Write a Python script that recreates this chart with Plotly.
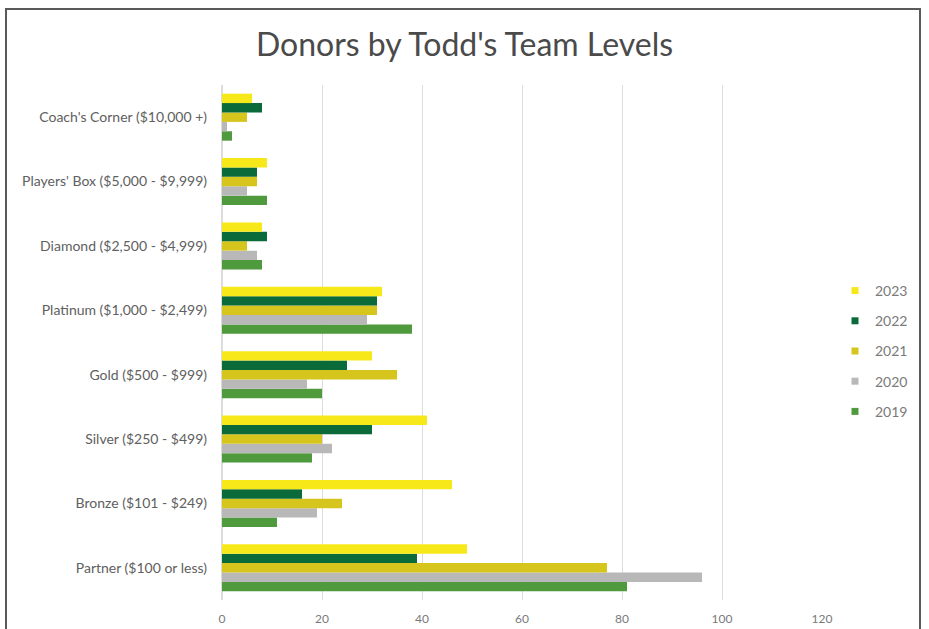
import plotly.graph_objects as go

categories = [
    "Partner ($100 or less)",
    "Bronze ($101 - $249)",
    "Silver ($250 - $499)",
    "Gold ($500 - $999)",
    "Platinum ($1,000 - $2,499)",
    "Diamond ($2,500 - $4,999)",
    "Players' Box ($5,000 - $9,999)",
    "Coach's Corner ($10,000 +)",
]
years = ["2019", "2020", "2021", "2022", "2023"]
v2019 = [81, 11, 18, 20, 38, 8, 9, 2]
v2020 = [96, 19, 22, 17, 29, 7, 5, 1]
v2021 = [77, 24, 20, 35, 31, 5, 7, 5]
v2022 = [39, 16, 30, 25, 31, 9, 7, 8]
v2023 = [49, 46, 41, 30, 32, 8, 9, 6]
values = [v2019, v2020, v2021, v2022, v2023]
colors = ["#4E9A3C", "#B8B8B8", "#D6C51C", "#0B6A3A", "#F7E81A"]
x_ticks = [0, 20, 40, 60, 80, 100, 120]

fig = go.Figure()
for i, (yr, vals, col) in enumerate(zip(years, values, colors)):
    fig.add_trace(go.Bar(
        y=categories, x=vals, name=yr, orientation="h",
        marker=dict(color=col, line=dict(width=0)),
        showlegend=False,
    ))
# legend-only entries with small square markers
for i, (yr, col) in enumerate(zip(years, colors)):
    fig.add_trace(go.Scatter(
        x=[None], y=[None], mode="markers", name=yr,
        marker=dict(symbol="square", size=7, color=col),
        legendgroup=yr, legendrank=100 - i, showlegend=True,
        hoverinfo="skip",
    ))

L, R, T, B = 222, 107, 85, 29
W, H = 929, 629
pw, ph = W - L - R, H - T - B

def px_x(p):
    return (p - L) / pw

def px_y(p):
    return (H - B - p) / ph

fig.update_layout(
    width=W, height=H, autosize=False,
    margin=dict(l=L, r=R, t=T, b=B, pad=0, autoexpand=False),
    paper_bgcolor="white", plot_bgcolor="white",
    barmode="group", bargap=0.27, bargroupgap=0,
    title=dict(text="Donors by Todd's Team Levels", x=0.5, xref="container",
               xanchor="center", y=1 - 45 / H, yanchor="middle",
               font=dict(family="Lato", size=32, color="#4a4a4a")),
    font=dict(family="Lato", color="#6a6a6a"),
    showlegend=True,
    legend=dict(x=px_x(835), xanchor="left", y=px_y(351), yanchor="middle",
                traceorder="grouped", tracegroupgap=9,
                font=dict(size=14, color="#7a7a7a"),
                itemwidth=30, bgcolor="rgba(0,0,0,0)"),
    xaxis=dict(range=[0, 120], tickvals=x_ticks, showgrid=True,
               gridcolor="#dcdcdc", gridwidth=1, zeroline=True,
               zerolinecolor="#dcdcdc", showline=False, automargin=False,
               tickfont=dict(size=12, color="#7a7a7a"),
               ticks="", ticklabelstandoff=10, fixedrange=True),
    yaxis=dict(categoryorder="array", categoryarray=categories,
               showgrid=False, showline=False, ticks="", automargin=False,
               tickfont=dict(size=14, color="#606060"),
               ticklabelstandoff=14, fixedrange=True),
    shapes=[dict(type="rect", xref="paper", yref="paper",
                 x0=px_x(6), x1=px_x(920), y0=px_y(660), y1=px_y(9),
                 line=dict(color="#5a5a5a", width=2),
                 fillcolor="rgba(0,0,0,0)", layer="below")],
)

fig.write_html("out.html", config={"displayModeBar": False},
               post_script="document.body.style.margin='0';document.body.style.overflow='hidden';")
